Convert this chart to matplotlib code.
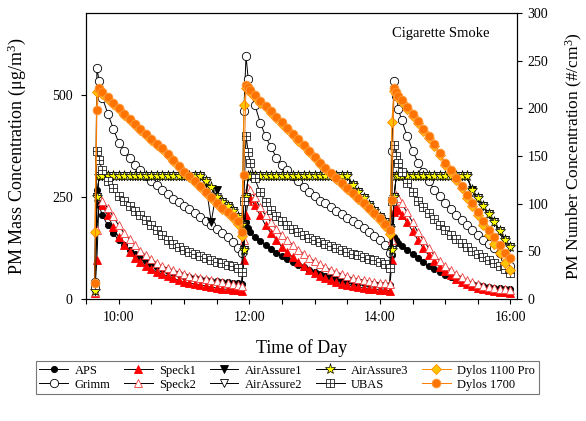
import numpy as np
import matplotlib
matplotlib.use('Agg')
import matplotlib.pyplot as plt
from matplotlib.path import Path
from matplotlib.ticker import MultipleLocator, FuncFormatter

plt.rcParams['font.family'] = ['Liberation Serif', 'DejaVu Serif']
plt.rcParams['mathtext.fontset'] = 'custom'
plt.rcParams['mathtext.rm'] = 'Liberation Serif'
plt.rcParams['mathtext.it'] = 'Liberation Serif:italic'

# sample times, minutes after midnight, three cigarette releases
ep1_t = [578, 580, 582, 585, 590, 595, 600, 605, 610, 615, 620, 625, 630, 635, 640,
         645, 650, 655, 660, 665, 670, 675, 680, 685, 690, 695, 700, 705, 710, 713]
ep2_t = [715, 717, 719, 721, 725, 730, 735, 740, 745, 750, 755, 760, 765, 770, 775,
         780, 785, 790, 795, 800, 805, 810, 815, 820, 825, 830, 835, 840, 845, 849]
ep3_t = [851, 853, 855, 857, 860, 865, 870, 875, 880, 885, 890, 895, 900, 905, 910,
         915, 920, 925, 930, 935, 940, 945, 950, 955, 960]
t = np.array(ep1_t + ep2_t + ep3_t)

# mass concentration (ug/m3), left axis
aps = [22, 266, 229, 205, 180, 161, 144, 132, 120, 110, 100, 93, 85, 78, 73, 68, 63, 61, 56, 54, 51, 49, 46, 44, 44, 41, 41, 39, 39, 37,
       120, 188, 173, 163, 151, 141, 132, 122, 112, 105, 98, 90, 83, 78, 71, 66, 61, 56, 54, 49, 46, 44, 41, 39, 39, 37, 37, 34, 34, 34,
       107, 151, 144, 137, 129, 120, 110, 100, 90, 80, 73, 66, 59, 54, 49, 44, 39, 37, 34, 32, 29, 27, 27, 24, 24]
grimm = [41, 566, 534, 493, 454, 417, 383, 363, 344, 327, 315, 300, 288, 278, 266, 256, 244, 237, 227, 220, 210, 200, 190, 180, 171, 161, 151, 139, 124, 112,
         461, 595, 539, 510, 476, 432, 398, 371, 346, 329, 315, 302, 288, 273, 263, 251, 241, 234, 224, 215, 207, 198, 190, 183, 173, 163, 154, 144, 132, 112,
         363, 534, 498, 466, 437, 400, 363, 334, 310, 288, 268, 251, 234, 220, 205, 193, 180, 168, 156, 144, 134, 124, 112, 100, 80]
speck1 = [15, 95, 249, 229, 205, 176, 151, 132, 115, 100, 90, 80, 73, 66, 61, 56, 51, 46, 41, 39, 37, 34, 32, 29, 27, 24, 24, 22, 22, 20,
          95, 205, 241, 246, 229, 205, 180, 161, 144, 127, 115, 102, 90, 80, 71, 63, 56, 51, 46, 41, 37, 34, 32, 29, 27, 24, 24, 22, 22, 20,
          95, 212, 224, 217, 205, 188, 166, 144, 124, 107, 93, 78, 68, 59, 49, 41, 37, 32, 27, 24, 22, 20, 17, 17, 15]
speck2 = [17, 168, 249, 241, 222, 202, 180, 161, 146, 132, 117, 107, 98, 88, 80, 76, 71, 66, 61, 56, 54, 51, 49, 46, 44, 41, 39, 37, 34, 32,
          144, 241, 271, 266, 249, 224, 205, 188, 171, 156, 144, 132, 120, 110, 100, 93, 85, 78, 71, 66, 61, 56, 51, 49, 46, 44, 41, 39, 39, 37,
          144, 241, 254, 246, 234, 212, 188, 163, 144, 124, 107, 93, 80, 71, 61, 54, 46, 41, 37, 32, 29, 27, 24, 24, 22]
airassure1 = [20, 250, 300, 300, 300, 300, 300, 300, 300, 300, 300, 300, 300, 300, 300, 300, 300, 300, 300, 300, 300, 300, 285, 188, 266, 238, 227, 215, 200, 180,
              120, 250, 300, 300, 300, 300, 300, 300, 300, 300, 300, 300, 300, 300, 300, 300, 300, 300, 300, 300, 300, 300, 276, 263, 246, 229, 215, 200, 188, 173,
              120, 250, 300, 300, 300, 300, 300, 300, 300, 300, 300, 300, 300, 300, 300, 300, 300, 266, 246, 227, 207, 188, 166, 144, 127]
airassure2 = [20, 250, 300, 300, 300, 300, 300, 300, 300, 300, 300, 300, 300, 300, 300, 300, 300, 300, 300, 300, 300, 300, 288, 270, 250, 238, 227, 215, 200, 180,
              120, 250, 300, 300, 300, 300, 300, 300, 300, 300, 300, 300, 300, 300, 300, 300, 300, 300, 300, 300, 300, 300, 280, 263, 246, 229, 215, 200, 188, 173,
              120, 250, 300, 300, 300, 300, 300, 300, 300, 300, 300, 300, 300, 300, 300, 300, 300, 262, 246, 227, 207, 188, 166, 144, 127]
airassure3 = [20, 250, 300, 300, 300, 300, 300, 300, 300, 300, 300, 300, 300, 300, 300, 300, 300, 300, 300, 300, 300, 300, 290, 273, 250, 238, 227, 215, 200, 180,
              120, 250, 300, 300, 300, 300, 300, 300, 300, 300, 300, 300, 300, 300, 300, 300, 300, 300, 300, 300, 300, 300, 280, 263, 246, 229, 215, 200, 188, 173,
              120, 250, 300, 300, 300, 300, 300, 300, 300, 300, 300, 300, 300, 300, 300, 300, 300, 266, 246, 227, 207, 188, 166, 144, 127]
ubas = [34, 363, 339, 315, 290, 271, 251, 239, 227, 215, 205, 193, 180, 168, 156, 144, 134, 127, 120, 115, 110, 105, 100, 95, 90, 88, 83, 80, 76, 66,
        241, 400, 359, 332, 295, 261, 237, 217, 202, 190, 180, 171, 163, 156, 149, 144, 139, 134, 129, 124, 120, 115, 110, 107, 102, 98, 95, 90, 85, 76,
        241, 376, 351, 332, 310, 283, 261, 241, 224, 210, 195, 180, 168, 156, 146, 137, 127, 117, 110, 102, 95, 88, 80, 73, 63]

# number concentration (#/cm3), right axis
dylos1100 = [70, 217, 219, 215, 210, 205, 199, 193, 188, 182, 177, 172, 167, 162, 157, 151, 145, 138, 132, 128, 123, 118, 111, 106, 100, 94, 90, 85, 79, 66,
             204, 221, 220, 217, 212, 206, 201, 195, 190, 184, 178, 172, 166, 160, 154, 148, 142, 136, 131, 126, 121, 115, 110, 105, 100, 94, 89, 83, 77, 68,
             186, 218, 215, 211, 207, 199, 192, 185, 176, 169, 161, 151, 141, 133, 125, 116, 106, 98, 88, 78, 67, 58, 48, 38, 30]
dylos1700 = [17, 198, 221, 217, 212, 206, 200, 194, 189, 184, 178, 173, 168, 163, 158, 152, 146, 139, 133, 129, 124, 119, 112, 107, 101, 95, 91, 87, 82, 70,
             130, 224, 222, 219, 214, 208, 202, 197, 191, 186, 179, 173, 168, 162, 155, 149, 143, 137, 132, 127, 122, 116, 111, 106, 101, 95, 90, 85, 79, 72,
             104, 221, 217, 213, 209, 201, 194, 187, 178, 171, 163, 153, 143, 135, 127, 119, 109, 101, 91, 82, 72, 65, 57, 48, 43]

# square with a cross in it, for UBAS
box_cross = Path([(-1, -1), (1, -1), (1, 1), (-1, 1), (-1, -1), (0, -1), (0, 1), (-1, 0), (1, 0)],
                 [Path.MOVETO, Path.LINETO, Path.LINETO, Path.LINETO, Path.CLOSEPOLY,
                  Path.MOVETO, Path.LINETO, Path.MOVETO, Path.LINETO])

fig = plt.figure(figsize=(5.86, 4.21), dpi=100)
ax = fig.add_axes([0.1468, 0.2898, 0.7355, 0.6793])
ax2 = ax.twinx()

lw = 0.7
mew = 0.6
ax.plot(t, aps, '-', color='k', lw=lw, marker='o', ms=4.5, mfc='k', mec='k', mew=mew, label='APS')
ax.plot(t, grimm, '-', color='k', lw=lw, marker='o', ms=6, mfc='white', mec='k', mew=mew, label='Grimm')
ax.plot(t, speck1, '-', color='k', lw=lw, marker='^', ms=5.5, mfc='red', mec='red', mew=mew, label='Speck1')
ax.plot(t, speck2, '-', color='k', lw=lw, marker='^', ms=5.5, mfc='white', mec='#f03c3c', mew=mew, label='Speck2')
ax.plot(t, airassure1, '-', color='k', lw=lw, marker='v', ms=5.5, mfc='k', mec='k', mew=mew, label='AirAssure1')
ax.plot(t, airassure2, '-', color='k', lw=lw, marker='v', ms=5.5, mfc='white', mec='k', mew=mew, label='AirAssure2')
ax.plot(t, airassure3, '-', color='k', lw=lw, marker='*', ms=8, mfc='#ffff00', mec='k', mew=0.5, label='AirAssure3')
ax.plot(t, ubas, '-', color='k', lw=lw, marker=box_cross, ms=5.4, mfc='white', mec='#222222', mew=mew, label='UBAS')
ax2.plot(t, dylos1100, '-', color='#ff8c00', lw=lw, marker='D', ms=5.4, mfc='#ffc400', mec='#ff8c00', mew=mew, label='Dylos 1100 Pro')
ax2.plot(t, dylos1700, '-', color='#ff7a00', lw=lw, marker='o', ms=6.3, mfc='#ff7400', mec='#ff9c40', mew=mew, label='Dylos 1700')

ax.set_xlim(570, 966)
ax.set_ylim(0, 700)
ax2.set_ylim(0, 300)

ax.xaxis.set_major_locator(MultipleLocator(120))
ax.xaxis.set_minor_locator(MultipleLocator(30))
ax.xaxis.set_major_formatter(FuncFormatter(lambda v, p: '%d:%02d' % (int(v) // 60, int(v) % 60)))
ax.yaxis.set_major_locator(MultipleLocator(250))
ax2.yaxis.set_major_locator(MultipleLocator(50))

ax.tick_params(axis='both', which='both', direction='out', length=3.5, width=0.8, labelsize=10)
ax.tick_params(axis='y', pad=6)
ax.tick_params(axis='x', pad=5)
ax2.tick_params(axis='y', direction='out', length=3.5, width=0.8, labelsize=10, pad=4)
for a in (ax, ax2):
    for s in a.spines.values():
        s.set_linewidth(0.8)

ax.set_xlabel('Time of Day', fontsize=13)
ax.set_ylabel('PM Mass Concentration (μg/m$^3$)', fontsize=13)
ax2.set_ylabel('PM Number Concentration (#/cm$^3$)', fontsize=12.5, rotation=90)
ax.xaxis.set_label_coords(0.5, -0.14)
ax.yaxis.set_label_coords(-0.135, 0.5)
ax2.yaxis.set_label_coords(1.108, 0.5)

ax.text(0.824, 0.93, 'Cigarette Smoke', transform=ax.transAxes, ha='center', va='center', fontsize=10.5)

h1, l1 = ax.get_legend_handles_labels()
h2, l2 = ax2.get_legend_handles_labels()
leg = fig.legend(h1 + h2, l1 + l2, loc='center', bbox_to_anchor=(0.49, 0.103), ncol=5,
                 fontsize=9, frameon=True, fancybox=False, edgecolor='#555555',
                 handlelength=2.3, handletextpad=0.5, columnspacing=1.1,
                 borderpad=0.3, labelspacing=0.15)
leg.get_frame().set_linewidth(0.8)

fig.savefig('out.png', dpi=100)
